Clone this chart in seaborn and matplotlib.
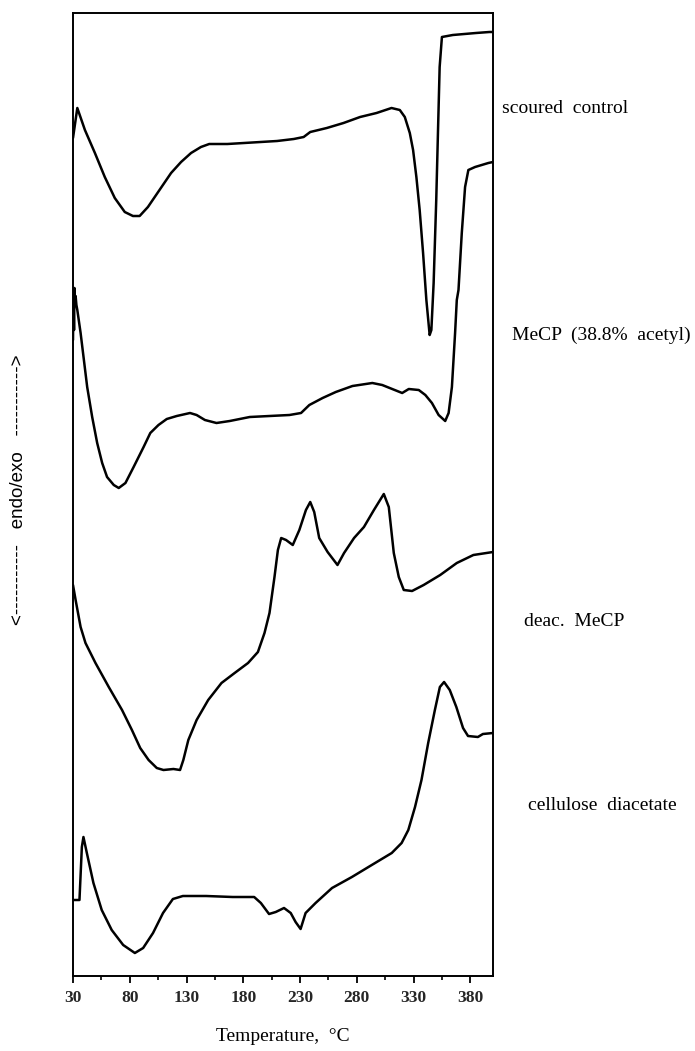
import matplotlib
matplotlib.use("Agg")
import matplotlib.pyplot as plt
import numpy as np
import pandas as pd
import seaborn as sns
from matplotlib.ticker import FixedLocator

# DSC thermograms: temperature (°C) vs. heat flow signal (arbitrary units, stacked)
t_scoured = [30, 33.8, 40.5, 49.3, 58, 66.8, 75.6, 82.8, 88.7, 96, 106.2, 116.4, 125.2,
             134, 142.7, 150, 166, 180.7, 195.3, 209.8, 224.5, 233.2, 239, 253.6, 268.3,
             282.9, 297.4, 310.6, 317.9, 322.3, 326.7, 329.6, 332.5, 335.4, 338.4, 341.3,
             344.2, 345.7, 347.7, 350, 351.5, 353, 355, 364.6, 385, 396.8, 400]
hf_scoured = [838, 868, 846, 823, 799, 778, 764, 760, 760, 769, 786, 803, 814,
              823, 829, 832, 832, 833, 834, 835, 837, 839, 844, 848, 853,
              859, 863, 868, 866, 859, 843, 826, 799, 766, 723, 676,
              641, 646, 693, 776, 843, 909, 939, 941, 943, 944, 944]

t_mecp = [30, 30.4, 30.9, 31.3, 31.8, 32.3, 33.0, 33.8, 36.7, 39.6, 42.5, 46.9, 51.3,
          55.7, 60, 65.9, 70.3, 76.2, 83.4, 92.2, 98.1, 105.3, 112.6, 121.4, 133.1,
          138.9, 146.2, 156.4, 168.1, 185.7, 203.2, 220.7, 230.9, 238.2, 249.9, 261.5,
          276.2, 293.7, 302.4, 311.2, 320, 325.8, 334.6, 340.4, 346.2, 352.1, 357.9,
          360.9, 363.8, 366.6, 368.1, 369.6, 372.5, 375.4, 378.3, 384.2, 395.9, 400]
hf_mecp = [636, 684, 646, 688, 674, 680, 671, 666, 643, 616, 589, 559, 533,
           513, 499, 491, 488, 493, 509, 529, 543, 551, 557, 560, 563,
           561, 556, 553, 555, 559, 560, 561, 563, 571, 578, 584,
           590, 593, 591, 587, 583, 587, 586, 581, 573, 561, 555,
           563, 589, 643, 676, 686, 743, 789, 806, 809, 813, 814]

t_deac = [30, 32.3, 36.7, 41.0, 49.8, 61.5, 73.2, 81.9, 89.2, 96.6, 103.8, 109.7, 118.5,
          124.3, 127.2, 131.6, 138.9, 149.1, 160.8, 172.4, 184.2, 192.9, 198.7, 203.1,
          207.5, 210.5, 213.4, 217.7, 223.6, 229.4, 235.2, 239, 242.5, 246.9, 254.3,
          263, 268.8, 277.6, 286.3, 295.1, 303.8, 308.2, 312.6, 317, 321.4, 328.7,
          338.9, 353.5, 368.1, 382.7, 400]
hf_deac = [391, 376, 349, 333, 313, 289, 266, 246, 228, 216, 208, 206, 207,
           206, 216, 236, 256, 276, 293, 303, 313, 324, 343, 363,
           399, 426, 438, 436, 431, 446, 466, 474, 464, 438, 424,
           411, 423, 438, 449, 466, 482, 469, 423, 399, 386, 385,
           391, 401, 413, 421, 424]

t_diacetate = [30, 35.7, 37.8, 39.2, 42.2, 48, 55.3, 64.1, 74.2, 84.5, 91.8, 100.5, 109.3,
               118, 126.8, 147.3, 170.6, 189.6, 195.5, 202.7, 208.6, 215.9, 221.8, 226.1,
               230.5, 234.9, 243.7, 258.2, 275.7, 293.2, 310.8, 319.5, 325.4, 331.3, 337,
               342.9, 348.8, 353.2, 356.9, 361.9, 367.7, 373.6, 378, 386.7, 391.1, 400]
hf_diacetate = [76, 76, 129, 139, 123, 93, 66, 46, 31, 23, 28, 43, 63,
                77, 80, 80, 79, 79, 73, 62, 64, 68, 63, 54,
                47, 63, 73, 88, 99, 111, 123, 133, 146, 169, 196,
                233, 266, 289, 294, 286, 269, 248, 240, 239, 242, 243]

sample_names = ["scoured control", "MeCP (38.8% acetyl)", "deac. MeCP", "cellulose diacetate"]
label_texts = ["scoured  control", "MeCP  (38.8%  acetyl)", "deac.  MeCP", "cellulose  diacetate"]
x_ticks = [30, 80, 130, 180, 230, 280, 330, 380]

frames = []
for name, t, hf in zip(sample_names,
                       [t_scoured, t_mecp, t_deac, t_diacetate],
                       [hf_scoured, hf_mecp, hf_deac, hf_diacetate]):
    frames.append(pd.DataFrame({"temperature": t, "signal": hf, "sample": name}))
data = pd.concat(frames, ignore_index=True)

sns.set_theme(style="white")
plt.rcParams["font.family"] = ["Liberation Serif", "DejaVu Serif"]

W, H = 695, 1051
fig = plt.figure(figsize=(W / 100, H / 100), dpi=100)
ax = fig.add_axes([73 / W, 1 - 976 / H, 420 / W, 963 / H])

sns.lineplot(data=data, x="temperature", y="signal", units="sample", estimator=None,
             sort=False, color="black", linewidth=1.8, legend=False, ax=ax)

ax.set_xlim(30, 400)
ax.set_ylim(0, 963)
ax.set_yticks([])
ax.set_ylabel("")
ax.xaxis.set_major_locator(FixedLocator(x_ticks))
ax.xaxis.set_minor_locator(FixedLocator([t + 25 for t in x_ticks]))
ax.set_xticklabels([str(t) for t in x_ticks], fontsize=12.5, fontweight="bold")
ax.tick_params(axis="x", which="major", direction="out", length=5, width=1.3,
               color="black", pad=5, bottom=True)
ax.tick_params(axis="x", which="minor", direction="out", length=3, width=1.2,
               color="black", bottom=True)
for sp in ax.spines.values():
    sp.set_visible(True)
    sp.set_color("black")
    sp.set_linewidth(1.4)

ax.set_xlabel("Temperature,  °C", fontsize=14, labelpad=16, color="black")

# curve labels to the right of the frame
label_pos = [(502, 109), (512, 335), (524, 622), (528, 805)]
for txt, (px, py) in zip(label_texts, label_pos):
    fig.text(px / W, 1 - py / H, txt, fontsize=14, ha="left", va="center", color="black")

fig.text(19 / W, 1 - 490 / H, "<-----------   endo/exo   ----------->", rotation=90,
         ha="center", va="center", fontsize=13.5, color="black",
         family=["Liberation Sans", "DejaVu Sans"])

fig.savefig("out.png", dpi=100)
